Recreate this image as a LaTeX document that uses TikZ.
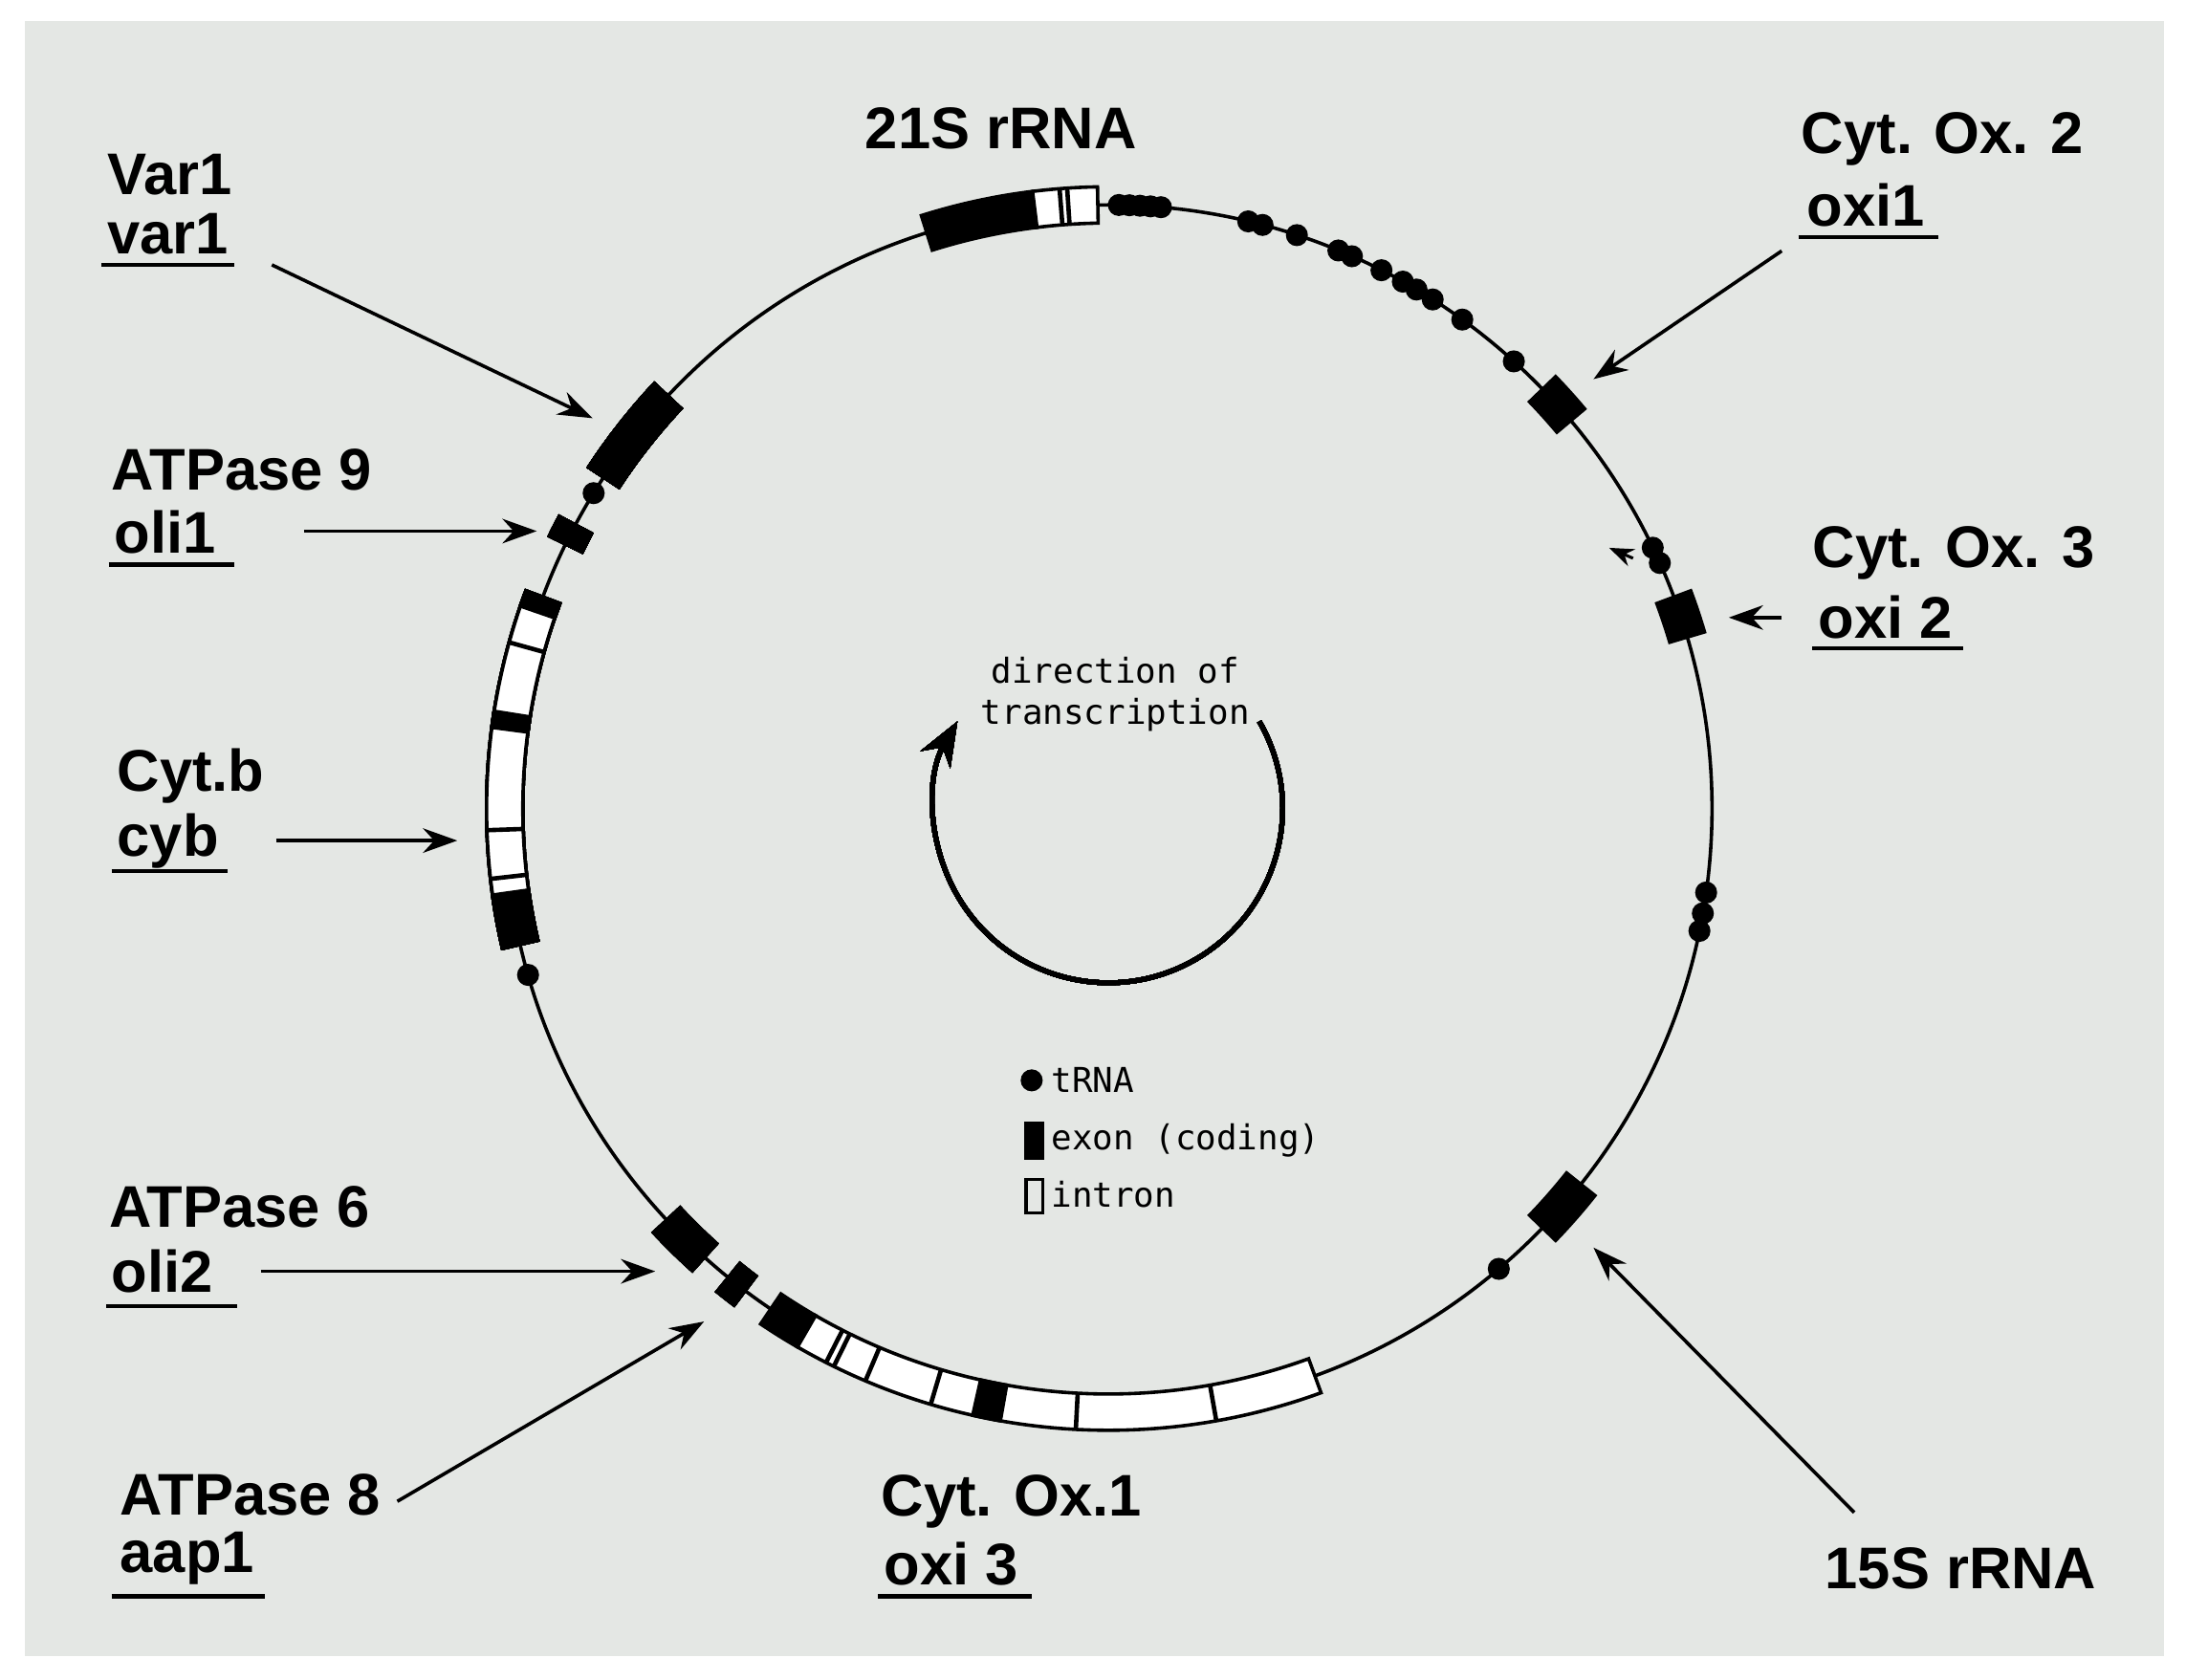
\documentclass[tikz,border=0pt]{standalone}
\usepackage{fontspec}
\setmainfont{Liberation Sans}
\newfontfamily\monof{DejaVu Sans Mono}
\usetikzlibrary{arrows.meta}
\definecolor{bg}{RGB}{228,231,228}
\tikzset{
  lbl/.style={font=\fontsize{12}{14}\selectfont\bfseries, inner sep=1pt},
  ul/.style={line width=0.9pt},
  ptr/.style={line width=0.7pt,-{Stealth[length=7pt,width=5pt]}},
  mono/.style={font=\monof\fontsize{7}{8.5}\selectfont, inner sep=1pt},
  trna/.style={circle,fill=black,inner sep=0pt,minimum size=4.5pt}
}
\newcommand{\gbox}[3]{\draw[line width=0.7pt,fill=#3] (#1:4.20) arc (#1:#2:4.20) -- (#2:4.46) arc (#2:#1:4.46) -- cycle;}
\newcommand{\gline}[1]{\draw[line width=0.9pt] (#1:4.20) -- (#1:4.46);}
\begin{document}
\begin{tikzpicture}
\useasboundingbox (0,0) rectangle (15.68,-12.05);
\fill[bg] (0.18,-0.15) rectangle (15.52,-11.88);
\begin{scope}[shift={(7.95,-5.80)}]
\draw[line width=0.7pt] (0,0) circle (4.33);
% 21S rRNA
\gbox{107.5}{97}{black}\gbox{97}{91}{white}\gline{94.5}\gline{93.8}
\foreach \a in {89,88,87,86,85,76.6,75.2,71.8,67.6,66.2,63.1,60.8,59.3,57.5,54.1,47.8,25.6,24,-8,-10,-11.7,-49.7,-164,148.5}
  \node[trna] at (\a:4.33) {};
% Cyt Ox 2, 3, 15S
\gbox{44}{40}{black}
\gbox{20.5}{16.5}{black}
\gbox{-38.5}{-44}{black}
\draw[line width=0.6pt,-{Stealth[length=5pt]}] (25.5:4.17) -- (27.5:4.05);
% Cyt Ox 1
\gbox{-124}{-120}{black}\gbox{-120}{-70}{white}
\gbox{-102.6}{-100}{black}
\foreach \a in {-117,-116.2,-113,-106.6,-93,-80}\gline{\a}
% ATPase 8, 6
\gbox{-127}{-129}{black}
\gbox{-132}{-137}{black}
% Cyt b
\gbox{160}{193}{white}
\gbox{188}{193}{black}\gbox{171}{172.5}{black}\gbox{159.5}{161}{black}
\foreach \a in {186.5,182,164.5}\gline{\a}
% ATPase 9, Var1
\gbox{152}{154}{black}
\gbox{136.9}{146.7}{black}
% direction of transcription
\draw[line width=1pt,-{Stealth[length=9pt,width=7pt]}] (30:1.25) arc (30:-210:1.25);
\end{scope}
\node[mono,align=center] (dir) at (8.00,-4.98) {direction of\\transcription};
% legend
\node[trna] (l1) at (7.40,-7.75) {};
\node[mono,anchor=west] (l1t) at (7.50,-7.75) {tRNA};
\draw[fill=black] (7.35,-8.05) rectangle (7.48,-8.31); \node[mono,anchor=west] (l2t) at (7.50,-8.18) {exon (coding)};
\draw[line width=0.7pt] (7.36,-8.46) rectangle (7.48,-8.70); \node[mono,anchor=west] (l3t) at (7.50,-8.57) {intron};
% labels
\node[lbl] (r21) at (7.18,-0.92) {21S rRNA};
\node[lbl,anchor=west] (v1) at (0.73,-1.25) {Var1};
\node[lbl,anchor=west] (v2) at (0.73,-1.68) {var1};
\draw[ul] (0.73,-1.90) -- (1.68,-1.90);
\coordinate (v1e) at (1.95,-1.90); \coordinate (v1t) at (4.25,-3.00);
\draw[ptr] (v1e) -- (v1t);
\node[lbl,anchor=west] (a9) at (0.76,-3.37) {ATPase 9};
\node[lbl,anchor=west] (a9b) at (0.78,-3.82) {oli1};
\draw[ul] (0.78,-4.05) -- (1.68,-4.05);
\coordinate (a9s) at (2.18,-3.81); \coordinate (a9t) at (3.85,-3.81);
\draw[ptr] (a9s) -- (a9t);
\node[lbl,anchor=west] (cb) at (0.80,-5.57) {Cyt.b};
\node[lbl,anchor=west] (cb2) at (0.80,-6.03) {cyb};
\draw[ul] (0.80,-6.25) -- (1.63,-6.25);
\coordinate (cbs) at (1.98,-6.03); \coordinate (cbt) at (3.28,-6.03);
\draw[ptr] (cbs) -- (cbt);
\node[lbl,anchor=west] (a6) at (0.74,-8.66) {ATPase 6};
\node[lbl,anchor=west] (a6b) at (0.76,-9.12) {oli2};
\draw[ul] (0.76,-9.37) -- (1.70,-9.37);
\coordinate (a6s) at (1.87,-9.12); \coordinate (a6t) at (4.70,-9.12);
\draw[ptr] (a6s) -- (a6t);
\node[lbl,anchor=west] (a8) at (0.82,-10.72) {ATPase 8};
\node[lbl,anchor=west] (a8b) at (0.82,-11.18) {aap1};
\draw[ul] (0.80,-11.45) -- (1.90,-11.45);
\coordinate (a8s) at (2.85,-10.77); \coordinate (a8t) at (5.05,-9.48);
\draw[ptr] (a8s) -- (a8t);
\node[lbl,anchor=west] (c1) at (6.28,-10.77) {Cyt. Ox.1};
\node[lbl,anchor=west] (c1b) at (6.30,-11.22) {oxi 3};
\draw[ul] (6.30,-11.45) -- (7.40,-11.45);
\node[lbl,anchor=east] (r15) at (15.08,-11.25) {15S rRNA};
\coordinate (r15s) at (13.30,-10.85); \coordinate (r15t) at (11.43,-8.95);
\draw[ptr] (r15s) -- (r15t);
\node[lbl,anchor=west] (c2) at (12.88,-1.00) {Cyt. Ox. 2};
\node[lbl,anchor=west] (c2b) at (12.92,-1.47) {oxi1};
\draw[ul] (12.90,-1.70) -- (13.90,-1.70);
\coordinate (c2s) at (12.78,-1.80); \coordinate (c2t) at (11.43,-2.72);
\draw[ptr] (c2s) -- (c2t);
\node[lbl,anchor=west] (c3) at (12.96,-3.97) {Cyt. Ox. 3};
\node[lbl,anchor=west] (c3b) at (13.00,-4.43) {oxi 2};
\draw[ul] (13.00,-4.65) -- (14.08,-4.65);
\coordinate (c3s) at (12.78,-4.43); \coordinate (c3t) at (12.40,-4.43);
\draw[ptr] (c3s) -- (c3t);
\end{tikzpicture}
\end{document}
